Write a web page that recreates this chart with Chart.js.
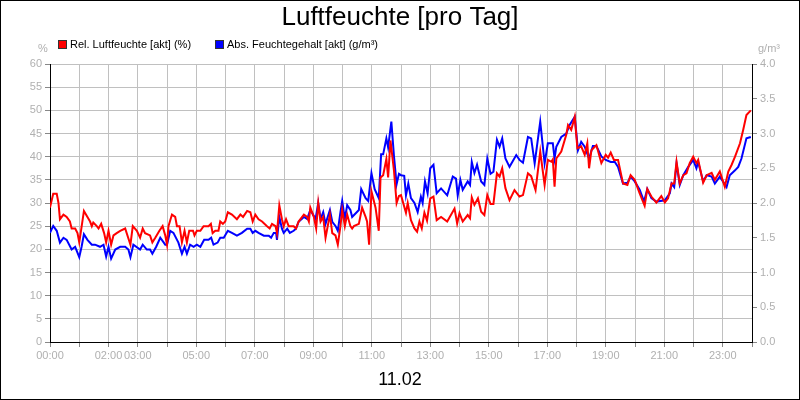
<!DOCTYPE html>
<html><head><meta charset="utf-8">
<script src="https://cdn.jsdelivr.net/npm/chart.js@4/dist/chart.umd.min.js"></script>
<style>html,body{margin:0;padding:0;background:#fff}#w{width:800px;height:400px}</style>
</head><body><div id="w"><canvas id="c" width="800" height="400"></canvas></div>
<script>
const title = "Luftfeuchte [pro Tag]";
const dateLabel = "11.02";
const seriesNames = ["Rel. Luftfeuchte [akt] (%)", "Abs. Feuchtegehalt [akt] (g/m³)"];
const shownHours = [0,2,3,5,7,9,11,13,15,17,19,21,23];
const hourLabels = ["00:00","01:00","02:00","03:00","04:00","05:00","06:00","07:00","08:00","09:00","10:00","11:00","12:00","13:00","14:00","15:00","16:00","17:00","18:00","19:00","20:00","21:00","22:00","23:00","24:00"];

const relHours = [0,.11,.23,.29,.34,.46,.57,.68,.74,.86,.94,1.0,1.06,1.16,1.28,1.37,1.43,1.48,1.6,1.66,1.75,1.85,1.92,2.0,2.09,2.17,2.28,2.4,2.57,2.75,2.83,2.97,3.08,3.17,3.25,3.42,3.5,3.6,3.74,3.85,3.94,4.0,4.05,4.17,4.28,4.34,4.43,4.51,4.6,4.68,4.76,4.89,4.94,5.02,5.14,5.25,5.42,5.5,5.56,5.65,5.76,5.82,5.91,5.99,6.08,6.22,6.39,6.51,6.6,6.74,6.85,6.93,7.02,7.13,7.25,7.42,7.51,7.59,7.71,7.76,7.84,7.93,7.99,8.07,8.16,8.33,8.41,8.5,8.68,8.79,8.85,8.9,9.02,9.1,9.17,9.25,9.34,9.42,9.57,9.65,9.76,9.84,9.93,9.99,10.08,10.16,10.27,10.33,10.39,10.56,10.67,10.79,10.84,10.91,10.99,11.13,11.24,11.3,11.39,11.5,11.56,11.64,11.76,11.85,11.93,12.0,12.17,12.23,12.34,12.46,12.55,12.63,12.71,12.8,12.89,13.0,13.11,13.22,13.37,13.58,13.83,13.92,14.0,14.11,14.28,14.36,14.42,14.51,14.63,14.74,14.85,14.95,15.06,15.16,15.28,15.37,15.46,15.57,15.71,15.88,16.05,16.17,16.34,16.45,16.6,16.76,16.91,17.02,17.14,17.19,17.25,17.31,17.48,17.65,17.71,17.82,17.94,18.03,18.16,18.28,18.37,18.43,18.51,18.68,18.85,19.0,19.08,19.17,19.28,19.42,19.59,19.74,19.85,19.99,20.16,20.33,20.42,20.56,20.73,20.9,21.02,21.13,21.25,21.34,21.42,21.53,21.65,21.76,21.87,21.99,22.1,22.16,22.33,22.45,22.62,22.73,22.9,23.07,23.19,23.3,23.42,23.59,23.7,23.81,23.96];
const relValues = [29,32,32,30,26.5,27.5,27,26,24.5,24.5,23.5,21.5,24,28.3,27,26,25,25.8,25,24.5,25.5,23.5,21.5,24,21,23,23.5,24,24.5,21,25,24,22.5,24.5,23.5,23,21.5,22.5,24,25,23,21,25,27.5,27,25,25,21.5,24,21.5,24,24,23,24,24,25,25,25.5,23.5,24,24,26,25.5,26,28,27.5,26.5,27.5,27,28.3,28,26,27.5,26.5,26,25,24.5,25.5,25,23.5,29.5,26.5,25,26.5,25,25,24.5,26,27.5,27,26,29,27,24.5,30,26,27,22.5,27.5,23.5,23,21,25,28.5,25,27.5,25,24.5,25,25.5,29,27,26,21,32.5,29,24,35.5,36,39.5,35.5,43.5,37,30,31.5,31.7,27.9,30,26.3,24.5,23.8,26,24.5,27.9,26.2,31,31.4,26.3,27,26,28.8,25.6,27.8,26,27.4,26.7,31.2,29.6,31,28.1,27.4,31.7,29.8,29.8,36.4,35.7,37.5,33.2,30.6,32.8,31.4,31.7,36.4,35.8,32.8,41.1,33.9,39.3,38.9,39.4,33.5,39.6,41.1,44.7,46.8,45.8,48.6,41.8,42.2,40.4,42.9,37.5,41.4,42.5,38.6,40.4,39.8,40.9,39.3,39.3,34.2,33.9,36,35,32.1,29.4,33,31.4,30.1,31.5,30.1,31,34.2,34.2,38.9,34.2,36,36.4,38.6,40,38.6,39.3,34.4,36,36.5,35,36.8,33.5,36.8,38.2,40,42.9,45.8,49,50];

const absHours = [0,.11,.23,.34,.46,.57,.74,.86,1.0,1.08,1.16,1.28,1.43,1.54,1.71,1.83,1.92,2.0,2.09,2.23,2.4,2.57,2.68,2.75,2.85,3.08,3.17,3.31,3.42,3.5,3.63,3.77,3.94,4.0,4.11,4.22,4.39,4.51,4.6,4.68,4.79,4.91,5.02,5.14,5.27,5.42,5.51,5.59,5.73,5.82,5.94,6.08,6.22,6.39,6.56,6.74,6.85,6.93,7.02,7.13,7.31,7.48,7.56,7.65,7.73,7.76,7.84,7.93,7.99,8.11,8.2,8.33,8.41,8.5,8.68,8.79,8.9,9.08,9.17,9.25,9.34,9.42,9.57,9.65,9.76,9.84,9.93,9.99,10.08,10.16,10.27,10.33,10.56,10.64,10.79,10.88,10.99,11.1,11.24,11.32,11.39,11.5,11.56,11.67,11.76,11.85,11.93,12.0,12.11,12.17,12.25,12.34,12.46,12.57,12.68,12.74,12.82,12.91,13.0,13.11,13.22,13.37,13.58,13.77,13.88,13.94,14.03,14.11,14.28,14.36,14.42,14.51,14.6,14.74,14.85,14.95,15.06,15.16,15.28,15.37,15.46,15.57,15.71,15.94,16.05,16.17,16.34,16.45,16.57,16.76,16.91,17.02,17.19,17.25,17.31,17.48,17.65,17.76,17.94,18.05,18.16,18.28,18.43,18.56,18.68,18.85,19.0,19.17,19.31,19.42,19.59,19.74,19.85,19.99,20.16,20.31,20.42,20.56,20.73,21.02,21.19,21.25,21.34,21.42,21.53,21.65,21.82,21.99,22.1,22.16,22.33,22.45,22.62,22.73,22.9,23.13,23.24,23.42,23.53,23.64,23.81,23.96];
const absValues = [1.57,1.67,1.6,1.43,1.5,1.47,1.33,1.37,1.22,1.37,1.55,1.47,1.4,1.4,1.37,1.4,1.23,1.37,1.2,1.33,1.37,1.37,1.33,1.22,1.4,1.33,1.4,1.33,1.33,1.27,1.37,1.5,1.4,1.4,1.6,1.57,1.43,1.27,1.37,1.27,1.4,1.37,1.4,1.37,1.47,1.47,1.5,1.4,1.43,1.5,1.5,1.6,1.57,1.53,1.57,1.63,1.63,1.57,1.6,1.57,1.53,1.53,1.5,1.57,1.57,1.47,1.8,1.63,1.57,1.63,1.57,1.6,1.63,1.73,1.8,1.77,1.9,1.77,2.0,1.77,1.87,1.7,1.9,1.73,1.67,1.6,1.87,2.03,1.77,1.97,1.9,1.8,1.9,2.2,2.07,2.03,2.43,2.2,2.07,2.7,2.7,2.93,2.8,3.17,2.67,2.27,2.42,2.4,2.39,2.11,2.28,2.07,2.0,1.87,2.09,2.0,2.31,2.14,2.5,2.55,2.14,2.21,2.11,2.38,2.35,2.11,2.33,2.19,2.31,2.26,2.59,2.43,2.55,2.31,2.26,2.64,2.42,2.45,2.91,2.81,2.93,2.64,2.52,2.69,2.62,2.58,2.95,2.93,2.57,3.17,2.57,2.86,2.86,2.64,2.81,2.95,3.0,3.12,3.24,2.76,2.88,2.81,2.64,2.82,2.82,2.67,2.62,2.59,2.59,2.52,2.28,2.29,2.38,2.31,2.19,2.02,2.2,2.07,2.02,2.04,2.14,2.28,2.23,2.57,2.26,2.4,2.52,2.62,2.5,2.59,2.31,2.4,2.38,2.28,2.38,2.23,2.4,2.47,2.52,2.64,2.93,2.95];

const relData = relHours.map((h, i) => ({x: h, y: relValues[i]}));
const absData = absHours.map((h, i) => ({x: h, y: absValues[i]}));

const frame = {
  id: 'frame',
  afterDraw(chart) {
    const ctx = chart.ctx;
    ctx.save();
    ctx.strokeStyle = '#000'; ctx.lineWidth = 1;
    ctx.strokeRect(0.5, 0.5, 799, 399);
    ctx.fillStyle = '#000';
    ctx.textAlign = 'center'; ctx.textBaseline = 'middle';
    ctx.font = '26px "Liberation Sans", Arial, sans-serif';
    ctx.fillText(title, 400, 18);
    ctx.font = '18px "Liberation Sans", Arial, sans-serif';
    ctx.fillText(dateLabel, 400, 380);
    ctx.font = '11px "Liberation Sans", Arial, sans-serif';
    ctx.textAlign = 'left';
    const items = [[58, '#ff0000', seriesNames[0]], [215, '#0000ff', seriesNames[1]]];
    for (const [x, col, t] of items) {
      ctx.fillStyle = col; ctx.fillRect(x, 40, 9, 9);
      ctx.strokeStyle = '#333'; ctx.strokeRect(x + 0.5, 40.5, 8, 8);
      ctx.fillStyle = '#000'; ctx.fillText(t, x + 12, 45);
    }
    ctx.fillStyle = '#b0b0b0';
    ctx.textAlign = 'center';
    ctx.fillText('%', 43, 49);
    ctx.fillText('g/m³', 769, 49);
    ctx.restore();
  }
};

const gridCol = '#c0c0c0';
const tickCol = '#b0b0b0';
const font = {family: '"Liberation Sans", Arial, sans-serif', size: 11};

new Chart(document.getElementById('c'), {
  type: 'line',
  data: {datasets: [
    {label: seriesNames[0], data: relData, borderColor: '#ff0000', borderWidth: 2, pointRadius: 0, yAxisID: 'y', tension: 0},
    {label: seriesNames[1], data: absData, borderColor: '#0000ff', borderWidth: 2, pointRadius: 0, yAxisID: 'y2', tension: 0}
  ]},
  options: {
    responsive: false, animation: false, devicePixelRatio: 1,
    layout: {padding: {top: 64, bottom: 0, left: 0, right: 0}},
    plugins: {legend: {display: false}, title: {display: false}, tooltip: {enabled: false}},
    scales: {
      x: {type: 'linear', min: 0, max: 24,
        afterFit(s) { s.height = 58; },
        ticks: {stepSize: 1, autoSkip: false, maxRotation: 0, color: tickCol, font, padding: 2,
          callback: v => shownHours.includes(v) ? hourLabels[v] : ''},
        grid: {color: gridCol, tickLength: 5, tickColor: '#888'},
        border: {color: '#000', width: 1}},
      y: {position: 'left', min: 0, max: 60,
        afterFit(s) { s.width = 50; },
        ticks: {stepSize: 5, color: tickCol, font, padding: 3},
        grid: {color: gridCol, tickLength: 5, tickColor: '#888'},
        border: {color: '#000', width: 1}},
      y2: {position: 'right', min: 0, max: 4,
        afterFit(s) { s.width = 48; },
        ticks: {stepSize: 0.5, color: tickCol, font, padding: 3, callback: v => v.toFixed(1)},
        grid: {display: true, drawOnChartArea: false, tickLength: 5, tickColor: '#888'},
        border: {color: '#000', width: 1}}
    }
  },
  plugins: [frame]
});
</script></body></html>
